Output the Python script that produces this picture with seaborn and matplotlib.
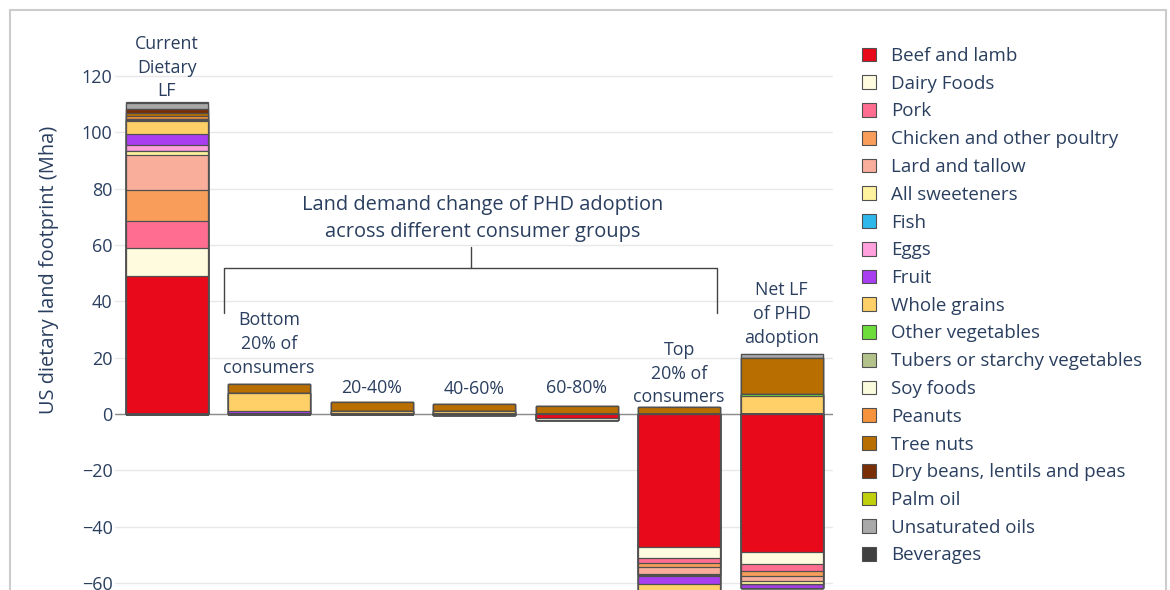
import numpy as np
import pandas as pd
import seaborn as sns
import matplotlib.pyplot as plt
from matplotlib.patches import Patch, Rectangle

# Food groups (trace order, bottom of the stack first) and their colours
foods = ['Beef and lamb', 'Dairy Foods', 'Pork', 'Chicken and other poultry',
         'Lard and tallow', 'All sweeteners', 'Fish', 'Eggs', 'Fruit',
         'Whole grains', 'Other vegetables', 'Tubers or starchy vegetables',
         'Soy foods', 'Peanuts', 'Tree nuts', 'Dry beans, lentils and peas',
         'Palm oil', 'Unsaturated oils', 'Beverages']
colors = ['#E8091B', '#FFFBDE', '#FF6E91', '#F89E5A', '#F9AE9C', '#FFF29E',
          '#2EB7EA', '#FFA1DC', '#A93DF0', '#FFD068', '#6CDD3B', '#B3C28B',
          '#FAFBDD', '#F6923B', '#B86E00', '#792E06', '#C0D00C', '#A9A9A9',
          '#404040']

groups = ['Current', 'Bottom 20%', '20-40%', '40-60%', '60-80%', 'Top 20%', 'Net']
group_labels = ['Current\nDietary\nLF', 'Bottom\n20% of\nconsumers', '20-40%',
                '40-60%', '60-80%', 'Top\n20% of\nconsumers', 'Net LF\nof PHD\nadoption']

# Land footprint per food group (Mha), same order as `foods`
current = [48.8, 10.0, 9.8, 11.0, 12.2, 1.4, 0.3, 2.1, 3.8, 4.5,
           0.4, 0.3, 0.1, 1.0, 1.2, 1.2, 0.2, 2.0, 0.6]
bottom_20 = [0, 0, 0, 0, 0, 0, 0, 0, 1.0, 6.3,
             0, 0, 0, 0, 3.3, 0, 0, 0, 0]
pct_20_40 = [0, 0, 0, 0, 0, 0, 0, 0, 0, 1.0,
             0, 0, 0, 0, 3.3, 0, 0, 0, 0]
pct_40_60 = [0, -0.4, 0, 0, 0, 0, 0, 0, 0, 0.9,
             0, 0, 0, 0, 2.8, 0, 0, 0, 0]
pct_60_80 = [-1.5, -0.8, 0, 0, 0, 0, 0, 0, 0, 0,
             0, 0, 0, 0, 2.8, 0, 0, 0, 0]
top_20 = [-47.4, -3.8, -1.7, -1.6, -2.3, -0.5, 0, -0.3, -2.6, -3.0,
          0, 0, 0, 0, 2.6, 0, 0, 0, 0]
net_lf = [-48.9, -4.5, -2.2, -1.8, -1.9, -1.1, 0, 0, -1.5, 6.2,
          0.8, 0, 0, 0, 12.8, 0, 0, 1.4, 0]

values = np.array([current, bottom_20, pct_20_40, pct_40_60,
                   pct_60_80, top_20, net_lf]).T
cum_pos = np.clip(values, 0, None).cumsum(axis=0)
cum_neg = np.clip(values, None, 0).cumsum(axis=0)

sns.set_style('white')
plt.rcParams['font.family'] = ['Open Sans', 'DejaVu Sans']
text_color = '#2a3f5f'
fs = 12.8
fs_big = 14.4

fig = plt.figure(figsize=(11.7, 5.9), dpi=100)
ax = fig.add_axes([115.4 / 1170, 0.0, 717.5 / 1170, 560 / 590])

# relative stacking: draw the cumulative tops from the last layer down
for stack in (cum_pos, cum_neg):
    for i in reversed(range(len(foods))):
        df = pd.DataFrame({'group': groups, 'value': stack[i]})
        sns.barplot(data=df, x='group', y='value', order=groups, color=colors[i],
                    saturation=1, errorbar=None, width=0.8,
                    edgecolor='#505050', linewidth=0.9, ax=ax, zorder=2)

ax.set_xlim(-0.5, 6.5)
ax.set_ylim(-62.5, 136.3)
ax.set_yticks(range(-60, 121, 20))
ax.set_xticks([])
ax.set_xlabel('')
ax.set_ylabel('US dietary land footprint (Mha)', fontsize=fs_big,
              color=text_color)
ax.yaxis.set_label_coords(-0.079, 0.571)
ax.yaxis.grid(True, color='#e8e8e8', lw=1)
ax.set_axisbelow(True)
ax.axhline(0, color='#8c8c8c', lw=1, zorder=1)
ax.tick_params(axis='y', length=0, labelsize=13, labelcolor=text_color, pad=2)
sns.despine(ax=ax, left=True, bottom=True)

# group labels above each bar (offset in points from the bar top)
tops = cum_pos[-1]
label_offsets = [0.8, 5.2, 3.4, 3.7, 6.6, 0.1, 5.2]
for i, lab in enumerate(group_labels):
    ax.annotate(lab, xy=(i, tops[i]), xytext=(0, label_offsets[i]),
                textcoords='offset points', ha='center', va='bottom',
                fontsize=fs, color=text_color, linespacing=1.42)

# bracket over the consumer groups
bx0, bx1, by, bend = 0.56, 5.37, 51.8, 35.9
ax.plot([bx0, bx0, bx1, bx1], [bend, by, by, bend], color='#444444', lw=1,
        zorder=3)
ax.plot([2.966, 2.966], [by, 59.3], color='#444444', lw=1, zorder=3)
ax.text(3.086, 61.0, 'Land demand change of PHD adoption\nacross different consumer groups',
        ha='center', va='bottom', fontsize=fs_big, color=text_color,
        linespacing=1.48)

handles = [Patch(facecolor=c, edgecolor='#505050', lw=0.8) for c in colors]
fig.legend(handles, foods, loc='upper left',
           bbox_to_anchor=(862 / 1170, 1 - 47 / 590), frameon=False,
           fontsize=13.5, labelcolor=text_color, borderpad=0, borderaxespad=0,
           handlelength=0.75, handleheight=0.75, handletextpad=0.8,
           labelspacing=0.52)

fig.add_artist(Rectangle((10 / 1170, -0.1), 1156 / 1170, 1.1 - 10 / 590,
                         transform=fig.transFigure, fill=False,
                         edgecolor='#cccccc', lw=1.5))

fig.savefig('out.png', dpi=100)
